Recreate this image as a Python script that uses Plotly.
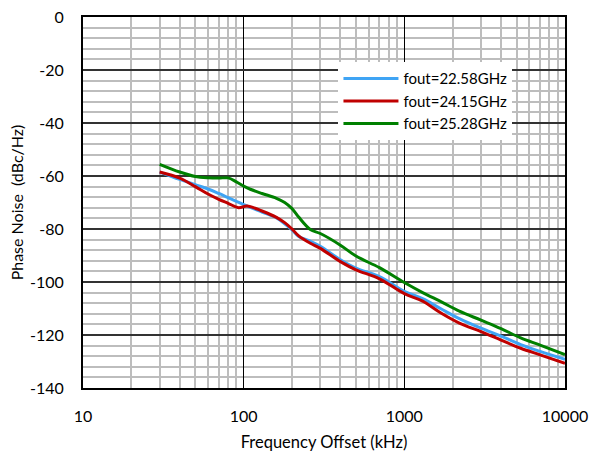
import plotly.graph_objects as go

# ---- data ----
freq_green = [30, 40, 50, 60, 70, 80, 90, 100, 110, 130, 160, 180, 200, 220, 260, 300,
              400, 500, 700, 1000, 1300, 1700, 2200, 3000, 4000, 5300, 7000, 10000]
pn_green = [-55.6, -58.5, -60.2, -60.7, -60.8, -60.7, -62.2, -63.8, -65.0, -66.6, -68.4,
            -70.0, -72.3, -75.5, -80.2, -81.7, -86.1, -90.2, -94.6, -100.2, -104.0,
            -107.5, -111.0, -114.4, -117.6, -121.1, -123.8, -127.4]

freq_blue = [30, 40, 50, 60, 70, 80, 90, 100, 110, 130, 160, 180, 200, 220, 260, 300,
             400, 500, 700, 1000, 1300, 1700, 2200, 3000, 4000, 5300, 7000, 10000]
pn_blue = [-58.5, -61.3, -63.3, -64.9, -66.6, -68.2, -69.6, -70.8, -71.8, -73.6, -75.8,
           -78.0, -80.3, -82.8, -84.6, -86.5, -91.6, -94.8, -98.0, -103.5, -106.3,
           -110.2, -113.8, -117.4, -120.4, -123.6, -126.2, -129.2]

freq_red = [30, 40, 50, 60, 70, 80, 93, 105, 130, 160, 180, 200, 220, 260, 300,
            400, 500, 700, 1000, 1300, 1700, 2200, 3000, 4000, 5300, 7000, 10000]
pn_red = [-58.5, -60.8, -64.0, -66.8, -68.8, -70.3, -72.0, -71.3, -73.2, -75.6, -77.6,
          -80.0, -82.6, -85.4, -87.3, -92.3, -95.4, -98.8, -104.4, -107.2, -111.8,
          -115.5, -118.7, -121.9, -125.0, -127.5, -130.7]

series_names = ["fout=22.58GHz", "fout=24.15GHz", "fout=25.28GHz"]
x_tick_vals = [10, 100, 1000, 10000]
x_tick_text = ["10", "100", "1000", "10000"]
x_minor_vals = [m * d for d in (10, 100, 1000) for m in range(2, 10)]
y_tick_vals = [0, -20, -40, -60, -80, -100, -120, -140]
y_tick_text = ["0", "-20", "-40", "-60", "-80", "-100", "-120", "-140"]

FONT = "Lato"

fig = go.Figure()
fig.add_trace(go.Scatter(x=freq_blue, y=pn_blue, mode="lines", name=series_names[0],
                         line=dict(color="#3FA4F4", width=3, shape="spline")))
fig.add_trace(go.Scatter(x=freq_red, y=pn_red, mode="lines", name=series_names[1],
                         line=dict(color="#C00000", width=3, shape="spline")))
fig.add_trace(go.Scatter(x=freq_green, y=pn_green, mode="lines", name=series_names[2],
                         line=dict(color="#008000", width=3, shape="spline")))

fig.update_layout(
    width=591, height=452,
    margin=dict(l=83, r=26, t=17, b=64, autoexpand=False),
    paper_bgcolor="white", plot_bgcolor="white",
    font=dict(family=FONT, size=15, color="black"),
    showlegend=True,
    legend=dict(x=0.53, y=0.878, xanchor="left", yanchor="top",
                bgcolor="white", borderwidth=0, itemwidth=55,
                font=dict(family=FONT, size=15, color="black")),
)

fig.update_xaxes(
    type="log", range=[1, 4], automargin=False,
    tickvals=x_tick_vals, ticktext=x_tick_text,
    ticks="", ticklen=0, ticklabelstandoff=13,
    showgrid=True, gridcolor="#000000", gridwidth=1,
    minor=dict(tickvals=x_minor_vals, showgrid=True, gridcolor="#BDBDBD", gridwidth=1.5, ticks=""),
    showline=True, linecolor="black", linewidth=2, mirror=True,
    tickfont=dict(family=FONT, size=16),
    title=dict(text="Frequency Offset (kHz)", font=dict(family=FONT, size=16.5), standoff=14),
    zeroline=False,
)
fig.update_yaxes(
    range=[-140, 0], automargin=False,
    tickvals=y_tick_vals, ticktext=y_tick_text,
    ticks="", ticklen=0, ticklabelstandoff=14,
    showgrid=True, gridcolor="#333333", gridwidth=1.5,
    minor=dict(dtick=4, showgrid=True, gridcolor="#BDBDBD", gridwidth=1.5, ticks=""),
    showline=True, linecolor="black", linewidth=2, mirror=True,
    tickfont=dict(family=FONT, size=16),
    title=dict(text="Phase Noise\u00a0 (dBc/Hz)", font=dict(family=FONT, size=16), standoff=2),
    zeroline=False,
)

fig.write_html("out.html")
